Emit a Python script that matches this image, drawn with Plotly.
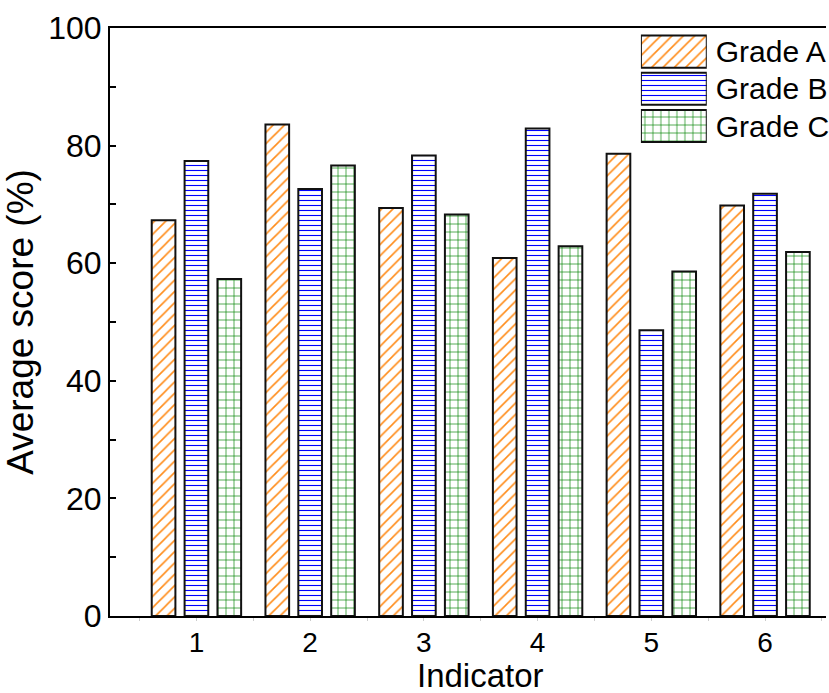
import plotly.graph_objects as go

indicators = [1, 2, 3, 4, 5, 6]
series_names = ["Grade A", "Grade B", "Grade C"]
grade_a = [67.3, 83.6, 69.4, 60.9, 78.6, 69.8]
grade_b = [77.4, 72.6, 78.3, 82.9, 48.6, 71.8]
grade_c = [57.3, 76.6, 68.3, 62.9, 58.6, 61.9]
y_ticks = [0, 20, 40, 60, 80, 100]

series_values = [grade_a, grade_b, grade_c]
colors = ["#FF8C1A", "#0000FF", "#008000"]
shapes = ["/", "-", "+"]
sizes = [8, 5, 8]
solid = [0.2, 0.22, 0.16]

FONT = "Liberation Sans, Arial, sans-serif"

fig = go.Figure()
for name, vals, c, s, sz, so in zip(series_names, series_values, colors, shapes, sizes, solid):
    fig.add_trace(go.Bar(
        x=indicators, y=vals, name=name, showlegend=False,
        marker=dict(color="white",
                    line=dict(color="#111111", width=2),
                    pattern=dict(shape=s, fgcolor=c, bgcolor="white", size=sz,
                                 solidity=so, fgopacity=1, fillmode="overlay")),
    ))

# legend swatches drawn as a small inset bar chart
fig.add_trace(go.Bar(
    x=[1, 1, 1], y=series_names, orientation="h", xaxis="x2", yaxis="y2",
    width=0.86, showlegend=False,
    marker=dict(color="white",
                line=dict(color="#111111", width=2),
                pattern=dict(shape=shapes, fgcolor=colors, bgcolor="white",
                             size=sizes, solidity=solid, fgopacity=1, fillmode="overlay")),
))

fig.update_layout(
    width=829, height=693,
    margin=dict(l=110, r=0, t=28, b=77),
    paper_bgcolor="white", plot_bgcolor="white",
    barmode="group", bargap=0.133, bargroupgap=0.28,
    font=dict(family=FONT, color="black"),
    xaxis=dict(
        range=[0.24, 6.536], tickvals=indicators, ticktext=[str(i) for i in indicators],
        showline=True, linecolor="black", linewidth=2, mirror=True,
        ticks="",
        minor=dict(tickvals=[0.5, 1, 1.5, 2, 2.5, 3, 3.5, 4, 4.5, 5, 5.5, 6, 6.5],
                   ticks="outside", ticklen=3, tickcolor="#cccccc"),
        showgrid=False, zeroline=False,
        tickfont=dict(size=28, family=FONT),
    ),
    yaxis=dict(
        range=[0, 100], tickvals=y_ticks,
        showline=True, linecolor="black", linewidth=2, mirror=False,
        ticks="inside", ticklen=6, tickwidth=1.5, tickcolor="black",
        minor=dict(dtick=10, ticks="inside", ticklen=6, tickwidth=1.5, tickcolor="black"),
        showgrid=False, zeroline=False,
        tickfont=dict(size=32, family=FONT),
        title=dict(text="Average score (%)", font=dict(size=37, family=FONT), standoff=4),
    ),
    xaxis2=dict(domain=[0.7415, 0.8335], range=[0, 1], visible=False,
                anchor="y2", fixedrange=True),
    yaxis2=dict(domain=[0.8015, 0.9915], type="category", autorange="reversed",
                anchor="x2", side="right", showline=False, ticks="",
                showgrid=False, zeroline=False, ticklabelstandoff=8,
                tickfont=dict(size=30, family=FONT)),
    annotations=[dict(text="Indicator", xref="x", yref="paper", x=3.5, y=-0.136,
                      xanchor="center", yanchor="bottom", showarrow=False,
                      font=dict(size=33, family=FONT))],
)

fig.write_html("out.html")
